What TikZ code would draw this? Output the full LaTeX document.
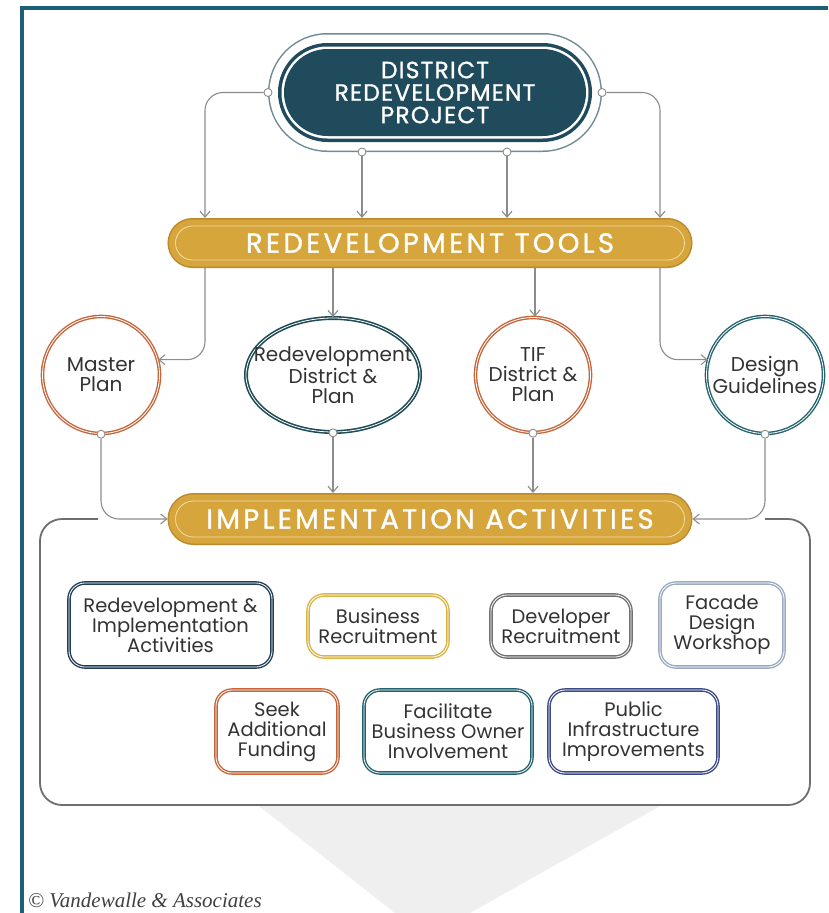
\documentclass[tikz,border=0pt]{standalone}
\usepackage{fontspec}
\setmainfont{Poppins}
\newfontfamily\footfont{Liberation Serif}
\usetikzlibrary{shapes.misc,shapes.geometric,arrows.meta,calc}
\definecolor{framec}{HTML}{1E5F78}
\definecolor{topfill}{HTML}{1F4B5D}
\definecolor{topring}{HTML}{1F4B5D}
\definecolor{topgray}{HTML}{6F8C96}
\definecolor{gold}{HTML}{D6A53C}
\definecolor{golddark}{HTML}{BC8A2A}
\definecolor{goldlight}{HTML}{F3DDA6}
\definecolor{conncol}{HTML}{8C8C8C}
\definecolor{orng}{HTML}{C4663A}
\definecolor{dteal}{HTML}{1E4B55}
\definecolor{teal}{HTML}{23626E}
\definecolor{navy}{HTML}{223D55}
\definecolor{goldb}{HTML}{D9B444}
\definecolor{grayb}{HTML}{707070}
\definecolor{lblue}{HTML}{9AAAC0}
\definecolor{indigo}{HTML}{3C4A85}
\definecolor{panel}{HTML}{6E6E6E}
\definecolor{wm}{HTML}{EFEFEF}
\definecolor{txt}{HTML}{333333}
\tikzset{
  conn/.style={draw=conncol, line width=1.1pt, -{Straight Barb[length=6pt,width=10pt]}, rounded corners=18pt},
  dot/.style={circle, draw=conncol, fill=white, line width=0.9pt, minimum size=8pt, inner sep=0pt},
  goldbar/.style={rounded rectangle, inner sep=0pt, outer sep=8pt, fill=gold,
    preaction={draw=golddark, line width=16pt},
    preaction={draw=gold, line width=13pt},
    draw=goldlight, line width=0.8pt, text=white,
    font=\fontsize{27.5}{30}\selectfont\addfontfeatures{LetterSpace=12,FakeBold=1.2}},
  ringnode/.style={circle, inner sep=0pt, draw=#1, line width=1.4pt, double=white, double distance=0.8pt,
    fill=white, align=center, font=\fontsize{20}{20}\selectfont, text=txt},
  boxnode/.style={rectangle, rounded corners=16pt, inner sep=0pt, draw=#1, line width=1.4pt, double=white,
    double distance=0.8pt, fill=white, align=center, font=\fontsize{19.5}{20}\selectfont, text=txt}
}
\begin{document}
\begin{tikzpicture}[x=1pt,y=-1pt]
\useasboundingbox (0,0) rectangle (828,913);
\fill[white] (0,0) rectangle (828,913);
% watermark
\fill[wm] (259,806) -- (660,806) -- (470,913) -- (395,913) -- cycle;
% frame
\draw[framec, line width=3.5pt] (22,913) -- (22,8) -- (828,8);
% panel
\draw[panel, line width=1.8pt, rounded corners=22pt] (98,519) -- (40,519) -- (40,805) -- (810,805) -- (810,519) -- (765,519);

% top node
\node[rounded rectangle, inner sep=0pt, outer sep=16pt, minimum width=302pt, minimum height=87pt,
  preaction={draw=topgray, line width=32pt},
  preaction={draw=white, line width=29pt},
  preaction={draw=topring, line width=12pt},
  preaction={draw=white, line width=5pt},
  fill=topfill, text=white, align=center,
  font=\fontsize{23.5}{22.5}\selectfont\addfontfeatures{LetterSpace=5,FakeBold=1}]
  (top) at (435,92.5) {DISTRICT\\REDEVELOPMENT\\PROJECT};

% bars
\node[goldbar, minimum width=509pt, minimum height=34pt] (tools) at (430,243) {REDEVELOPMENT TOOLS};
\node[goldbar, minimum width=509pt, minimum height=36pt] (impl) at (430,519) {IMPLEMENTATION ACTIVITIES};

% column coordinates
\coordinate (xA) at (205,0);
\coordinate (xB) at (333,0);
\coordinate (xC) at (535,0);
\coordinate (xD) at (660,0);

% circles
\node[ringnode=orng, minimum size=117pt] (master) at (101,375) {Master\\Plan};
\node[ellipse, inner xsep=-19pt, inner ysep=0pt, draw=dteal, line width=1.6pt, double=white, double distance=0.8pt,
  fill=white, align=center, font=\fontsize{20}{20}\selectfont, text=txt,
  minimum width=174pt, minimum height=114pt] (redev) at (333,375) {Redevelopment\\District \&\\Plan};
\node[ringnode=orng, minimum size=115pt] (tif) at (533,375) {TIF\\District \&\\Plan};
\node[ringnode=teal, minimum size=117pt] (design) at (765,375) {Design\\Guidelines};

% dots on top node
\node[dot] (t1) at (top.west) {};
\node[dot] (t2) at (top.east) {};
\node[dot] (t3) at ($(top.south)+(-73,0)$) {};
\node[dot] (t4) at ($(top.south)+(72,0)$) {};

% top -> tools
\draw[conn] (t1) -| (xA |- tools.north);
\draw[conn] (t2) -| (xD |- tools.north);
\draw[conn] (t3) -- (t3 |- tools.north);
\draw[conn] (t4) -- (t4 |- tools.north);

% tools -> circles
\draw[conn] (xA |- tools.south) |- (master.15);
\draw[conn] (xD |- tools.south) |- (design.165);
\draw[conn] (xB |- tools.south) -- (redev.north);
\draw[conn] (xC |- tools.south) -- (xC |- tif.north);

% dots on circles
\node[dot] (m1) at (master.south) {};
\node[dot] (r1) at (redev.south) {};
\node[dot] (f1) at (tif.south) {};
\node[dot] (d1) at (design.south) {};

% circles -> impl
\draw[conn] (m1) |- (impl.west);
\draw[conn] (d1) |- (impl.east);
\draw[conn] (r1) -- (r1 |- impl.north);
\draw[conn] (f1) -- (f1 |- impl.north);

% boxes
\node[boxnode=navy, minimum width=203pt, minimum height=84pt] (b1) at (170.5,625) {Redevelopment \&\\Implementation\\Activities};
\node[boxnode=goldb, minimum width=140pt, minimum height=62pt] (b2) at (378,626) {Business\\Recruitment};
\node[boxnode=grayb, minimum width=140pt, minimum height=62pt] (b3) at (561,626) {Developer\\Recruitment};
\node[boxnode=lblue, minimum width=124pt, minimum height=84pt] (b4) at (722,625) {Facade\\Design\\Workshop};
\node[boxnode=orng, minimum width=122pt, minimum height=83pt] (b5) at (277,731.5) {Seek\\Additional\\Funding};
\node[boxnode=teal, minimum width=168pt, minimum height=83pt] (b6) at (448,731.5) {Facilitate\\Business Owner\\Involvement};
\node[boxnode=indigo, minimum width=169pt, minimum height=83pt] (b7) at (633.5,731.5) {Public\\Infrastructure\\Improvements};

% footer
\node[anchor=west, inner sep=0pt, font=\footfont\itshape\fontsize{21}{24}\selectfont, text=black!75] (foot) at (28,900) {© Vandewalle \& Associates};
\end{tikzpicture}
\end{document}
